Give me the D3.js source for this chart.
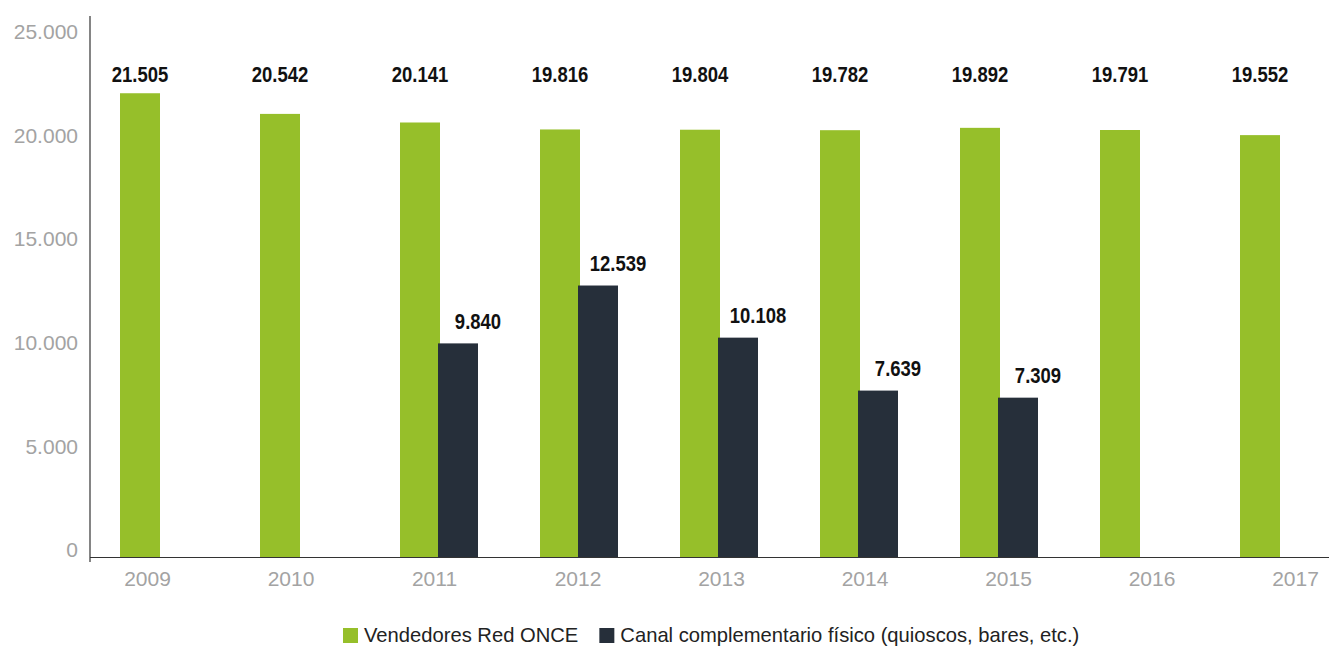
<!DOCTYPE html>
<html><head><meta charset="utf-8">
<script src="https://cdn.jsdelivr.net/npm/d3@7"></script>
<style>body{margin:0;background:#fff;} svg{display:block;}</style>
</head><body>
<svg id="chart" width="1329" height="646"></svg>
<script>
const years = ["2009","2010","2011","2012","2013","2014","2015","2016","2017"];
const vendedores = [21505, 20542, 20141, 19816, 19804, 19782, 19892, 19791, 19552];
const canal = [null, null, 9840, 12539, 10108, 7639, 7309, null, null];
const seriesNames = ["Vendedores Red ONCE", "Canal complementario físico (quioscos, bares, etc.)"];
const seriesColors = ["#96bf2a", "#262f3a"];
const yTicks = [0, 5000, 10000, 15000, 20000, 25000];

const svg = d3.select("#chart");
const fmt = v => d3.format(",")(v).replace(/,/g, ".");

const x0 = d3.scaleBand().domain(years).range([90, 1350]);
const y = d3.scaleLinear().domain([0, 25000]).range([554.4, 18.3]);
const yLab = d3.scaleLinear().domain([0, 25000]).range([550, 32]);
const xLab = d3.scalePoint().domain(years).range([147, 1295]);
const axisY = 557.5;
const baseFont = "'Liberation Sans',Arial,sans-serif";

// bars
const g = svg.append("g");
g.selectAll(".g1").data(years).join("rect")
  .attr("x", d => x0(d) + 30).attr("width", 40)
  .attr("y", (d, i) => y(vendedores[i]))
  .attr("height", (d, i) => axisY - y(vendedores[i]))
  .attr("fill", seriesColors[0]);
const canalData = years.map((d, i) => ({year: d, v: canal[i]})).filter(d => d.v != null);
g.selectAll(".g2").data(canalData).join("rect")
  .attr("x", d => x0(d.year) + 68).attr("width", 40)
  .attr("y", d => y(d.v))
  .attr("height", d => axisY - y(d.v))
  .attr("fill", seriesColors[1]);

// value labels (condensed look via horizontal scale)
function valLabel(sel) {
  sel.attr("text-anchor", "middle").attr("dy", "0.36em")
    .style("font-family", baseFont).style("font-weight", "bold").style("font-size", "21.5px")
    .attr("fill", "#111");
}
g.selectAll(".l1").data(years).join("text")
  .attr("transform", d => `translate(${x0(d) + 50},74) scale(0.86,1)`)
  .call(valLabel).text((d, i) => fmt(vendedores[i]));
g.selectAll(".l2").data(canalData).join("text")
  .attr("transform", d => `translate(${x0(d.year) + 108},${y(d.v) - 22}) scale(0.86,1)`)
  .call(valLabel).text(d => fmt(d.v));

// y axis labels
const ya = svg.append("g").attr("transform", "translate(78,0)")
  .call(d3.axisLeft(yLab).tickValues(yTicks).tickSize(0).tickPadding(0).tickFormat(fmt));
ya.select(".domain").remove();
ya.selectAll("text").style("font-family", baseFont)
  .style("font-size", "21px").attr("fill", "#a3a3a3");

// x axis labels
const xa = svg.append("g").attr("transform", "translate(0,571)")
  .call(d3.axisBottom(xLab).tickSize(0).tickPadding(0));
xa.select(".domain").remove();
xa.selectAll("text").style("font-family", baseFont)
  .style("font-size", "21px").attr("fill", "#a3a3a3");

// axis lines
svg.append("line").attr("x1", 90).attr("x2", 90).attr("y1", 16).attr("y2", 562)
  .attr("stroke", "#333").attr("stroke-width", 1.2);
svg.append("line").attr("x1", 90).attr("x2", 1329).attr("y1", axisY).attr("y2", axisY)
  .attr("stroke", "#333").attr("stroke-width", 1.2);

// legend
const leg = svg.append("g").attr("transform", "translate(343,635)");
let xoff = 0;
seriesNames.forEach((name, i) => {
  const it = leg.append("g").attr("transform", `translate(${xoff},0)`);
  it.append("rect").attr("x", 0).attr("y", -7).attr("width", 15).attr("height", 15).attr("fill", seriesColors[i]);
  const t = it.append("text").attr("x", 21).attr("y", 0).attr("dy", "0.35em")
    .style("font-family", baseFont).style("font-size", "20.2px")
    .attr("fill", "#222").text(name);
  xoff += 21 + t.node().getComputedTextLength() + 21;
});
</script>
</body></html>
